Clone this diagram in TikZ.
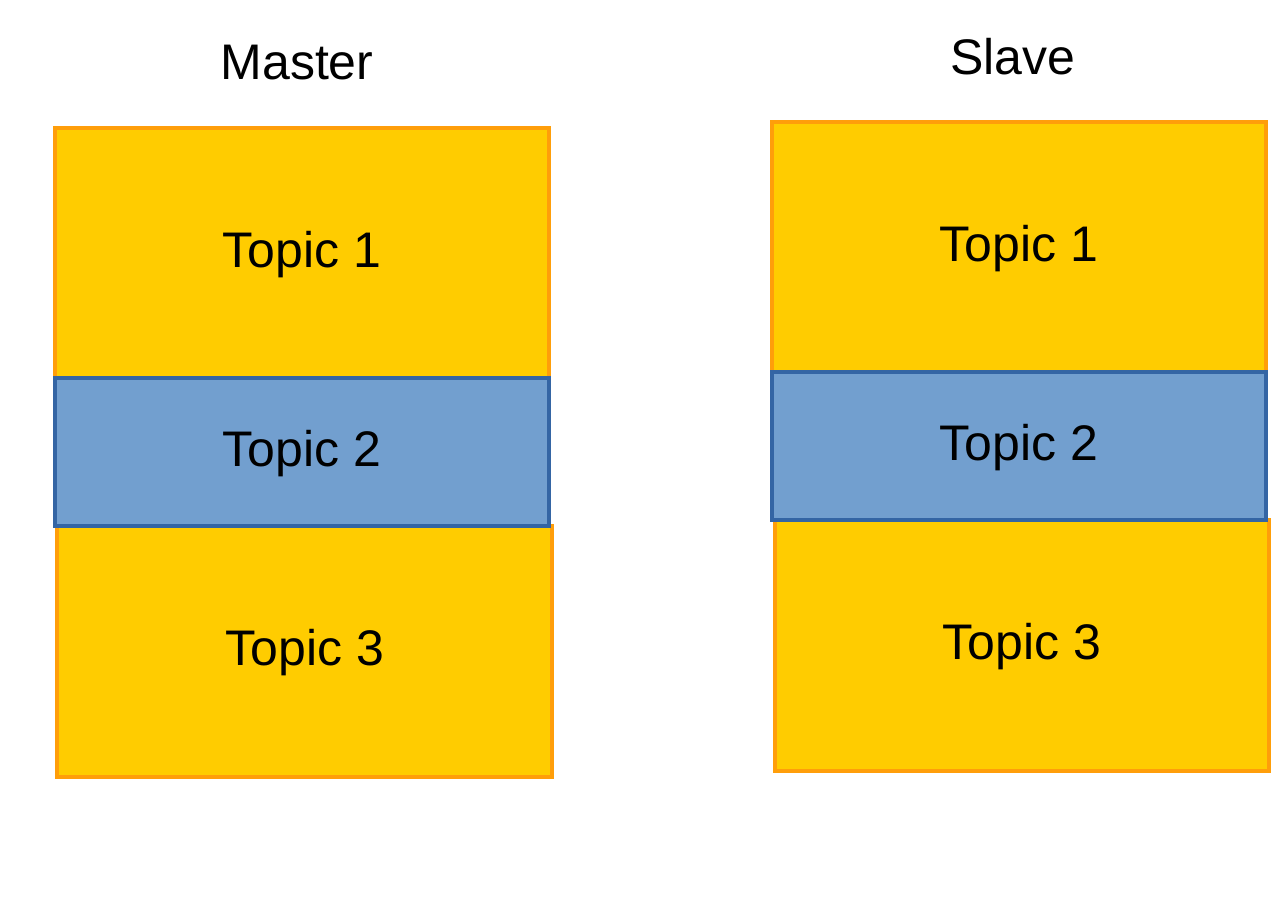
\documentclass[tikz,border=0pt]{standalone}
\usepackage{fontspec}
\setmainfont{Liberation Sans}
\definecolor{yel}{HTML}{FFCC00}
\definecolor{ora}{HTML}{FF9E0A}
\definecolor{blu}{HTML}{729FCF}
\definecolor{bld}{HTML}{3465A4}
\begin{document}
\begin{tikzpicture}[x=1pt,y=-1pt,
 ybox/.style={fill=yel,draw=ora,line width=4pt},
 bbox/.style={fill=blu,draw=bld,line width=4pt},
 lbl/.style={font=\fontsize{50}{60}\selectfont}]
\useasboundingbox (0,0) rectangle (1280,905);
\draw[ybox] (55,128) rectangle (549,378);
\draw[ybox] (57,526) rectangle (552,777);
\draw[bbox] (55,378) rectangle (549,526);
\draw[ybox] (772,122) rectangle (1266,372);
\draw[ybox] (775,520) rectangle (1269,771);
\draw[bbox] (772,372) rectangle (1266,520);
\node[lbl] (m) at (297,63) {Master};
\node[lbl] (s) at (1013,57) {Slave};
\node[lbl] (m1) at (302,255) {Topic 1};
\node[lbl] (m2) at (302,454) {Topic 2};
\node[lbl] (m3) at (305,653) {Topic 3};
\node[lbl] (s1) at (1019,249) {Topic 1};
\node[lbl] (s2) at (1019,448) {Topic 2};
\node[lbl] (s3) at (1022,647) {Topic 3};
\end{tikzpicture}
\end{document}
